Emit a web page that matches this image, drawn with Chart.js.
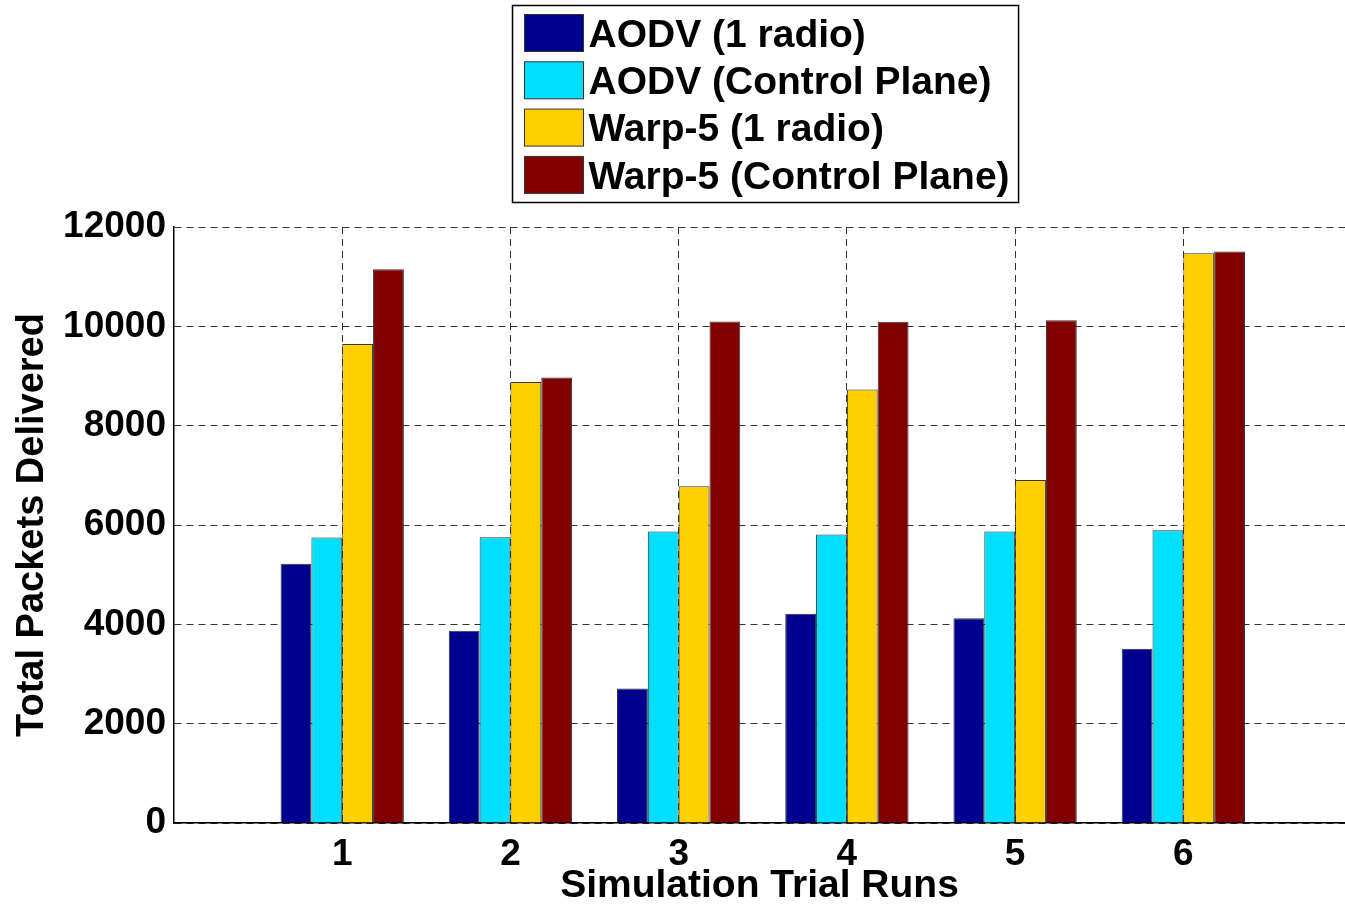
<!DOCTYPE html>
<html>
<head>
<meta charset="utf-8">
<script src="https://cdn.jsdelivr.net/npm/chart.js@4.4.0/dist/chart.umd.min.js"></script>
<style>
  html, body { margin: 0; padding: 0; background: #fff; }
  #wrap { width: 1345px; height: 908px; }
</style>
</head>
<body>
<div id="wrap"><canvas id="myBarChart" width="1345" height="908"></canvas></div>
<script>
const ctx = document.getElementById("myBarChart");

// simulation runs and packets delivered
const runs = [1, 2, 3, 4, 5, 6];
const aodvOneRadio = [5220, 3870, 2710, 4215, 4125, 3510];
const aodvControl = [5750, 5755, 5870, 5810, 5870, 5895];
const warpOneRadio = [9645, 8880, 6780, 8730, 6905, 11470];
const warpControl = [11150, 8970, 10095, 10090, 10125, 11505];

const seriesNames = [
  "AODV (1 radio)",
  "AODV (Control Plane)",
  "Warp-5 (1 radio)",
  "Warp-5 (Control Plane)",
];
const seriesColors = ["#00008F", "#00DFFF", "#FFCF00", "#800000"];

const FONT = "'Liberation Sans', Arial, Helvetica, sans-serif";

function toPoints(values) {
  return runs.map((r, i) => ({ x: r, y: values[i] }));
}

// legend box drawn in the top padding, one entry per row
const boxLegend = {
  id: "boxLegend",
  afterDraw(chart) {
    const c = chart.ctx;
    const sets = chart.data.datasets;
    c.save();
    c.font = "bold 39px " + FONT;
    let maxText = 0;
    sets.forEach((ds) => {
      maxText = Math.max(maxText, c.measureText(ds.label).width);
    });
    const swW = 59, swH = 37, rowH = 47.3;
    const w = 12 + swW + 5 + maxText + 9;
    const h = 197;
    const cx = chart.scales.x.getPixelForValue(3.5) + 2;
    const x0 = Math.round(cx - w / 2) + 0.5;
    const y0 = 5.5;
    c.fillStyle = "#fff";
    c.fillRect(x0, y0, w, h);
    c.strokeStyle = "#000";
    c.lineWidth = 1.5;
    c.strokeRect(x0, y0, w, h);
    c.textBaseline = "middle";
    c.textAlign = "left";
    sets.forEach((ds, i) => {
      const sy = y0 + 9 + i * rowH;
      c.fillStyle = ds.backgroundColor;
      c.fillRect(x0 + 12, sy, swW, swH);
      c.lineWidth = 1;
      c.strokeStyle = "#333";
      c.strokeRect(x0 + 12, sy, swW, swH);
      c.fillStyle = "#000";
      c.fillText(ds.label, x0 + 12 + swW + 5, sy + swH / 2 + 3);
    });
    c.restore();
  },
};

const data = {
  datasets: [aodvOneRadio, aodvControl, warpOneRadio, warpControl].map((vals, i) => ({
    label: seriesNames[i],
    data: toPoints(vals),
    backgroundColor: seriesColors[i],
    borderColor: "#333",
    borderWidth: 1,
    borderSkipped: "bottom",
    categoryPercentage: 0.733,
    barPercentage: 1.0,
  })),
};

new Chart(ctx, {
  type: "bar",
  data: data,
  plugins: [boxLegend],
  options: {
    responsive: false,
    animation: false,
    layout: { padding: { top: 227, right: 0, bottom: 0, left: 0 } },
    plugins: {
      legend: { display: false },
      tooltip: { enabled: false },
    },
    scales: {
      x: {
        type: "linear",
        min: 0,
        max: 6.961,
        offset: false,
        afterFit(scale) {
          scale.height = 85;
        },
        ticks: {
          stepSize: 1,
          includeBounds: false,
          padding: 10,
          color: "#000",
          font: { family: FONT, size: 37, weight: "bold" },
          callback: (v) => (v >= 1 && v <= 6 ? String(v) : ""),
        },
        grid: {
          offset: false,
          drawTicks: false,
          color: (c) => (c.tick && c.tick.value >= 1 && c.tick.value <= 6 ? "#333" : "rgba(0,0,0,0)"),
          lineWidth: 1,
        },
        border: { display: true, color: "#000", width: 1.5, dash: [7, 5] },
        title: {
          display: true,
          text: "Simulation Trial Runs",
          color: "#000",
          font: { family: FONT, size: 39, weight: "bold", lineHeight: 1 },
          padding: { top: 0, bottom: 2 },
        },
      },
      y: {
        min: 0,
        max: 12000,
        afterFit(scale) {
          scale.width = 174;
        },
        ticks: {
          stepSize: 2000,
          padding: 8,
          color: "#000",
          font: { family: FONT, size: 37, weight: "bold" },
          callback: (v) => String(v),
        },
        grid: {
          drawTicks: false,
          color: "#333",
          lineWidth: 1,
        },
        border: { display: true, color: "#000", width: 1.5, dash: [7, 5] },
        title: {
          display: true,
          text: "Total Packets Delivered",
          color: "#000",
          font: { family: FONT, size: 38, weight: "bold", lineHeight: 1 },
          padding: { top: 14, bottom: 0 },
        },
      },
    },
  },
});
</script>
</body>
</html>
